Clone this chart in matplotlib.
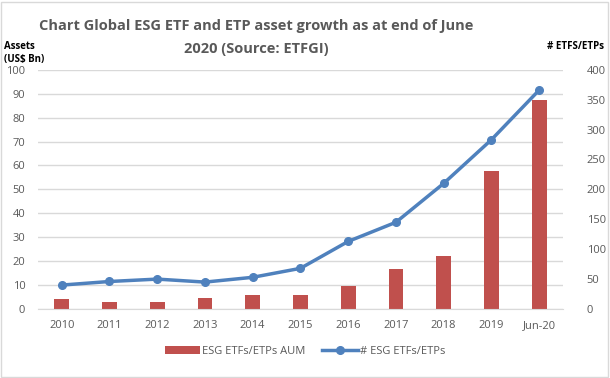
import numpy as np
import matplotlib.pyplot as plt
from matplotlib.patches import Rectangle

# chart data
years = ['2010', '2011', '2012', '2013', '2014', '2015', '2016', '2017', '2018', '2019', 'Jun-20']
aum = [4, 3, 3, 4.7, 6, 6, 9.7, 16.8, 22, 57.5, 87.5]       # US$ Bn
count = [40, 46, 50, 45, 53, 68, 113, 145, 210, 283, 366]   # number of ETFs/ETPs

plt.rcParams['font.family'] = ['Open Sans', 'DejaVu Sans']
grey = '#595959'

fig = plt.figure(figsize=(6.1, 3.78), dpi=100)
fig.patches.append(Rectangle((0.002, 0.003), 0.995, 0.993, transform=fig.transFigure,
                             fill=False, edgecolor='#d9d9d9', lw=1))

ax = fig.add_axes([0.062, 0.1825, 0.861, 0.633])
ax2 = ax.twinx()

x = np.arange(len(years))
ax.bar(x, aum, width=0.31, color='#C0504D', label='ESG ETFs/ETPs AUM', zorder=2)
ax2.plot(x, count, color='#4F81BD', lw=2.5, marker='o', ms=5.5,
         label='# ESG ETFs/ETPs', zorder=3)

ax.set_xlim(-0.5, len(years) - 0.5)
ax.set_ylim(0, 100)
ax.set_yticks(range(0, 101, 10))
ax2.set_ylim(0, 400)
ax2.set_yticks(range(0, 401, 50))
ax.set_xticks(x)
ax.set_xticklabels(years)

ax.grid(axis='y', color='#d9d9d9', lw=1, zorder=0)
ax.set_axisbelow(True)
for a in (ax, ax2):
    for s in a.spines.values():
        s.set_visible(False)
    a.tick_params(length=0, labelsize=8, labelcolor=grey)
ax.spines['bottom'].set_visible(True)
ax.spines['bottom'].set_color('#d9d9d9')
ax.tick_params(axis='x', pad=8)
ax.tick_params(axis='y', pad=9)
ax2.tick_params(axis='y', pad=17)

fig.text(0.42, 0.9, 'Chart Global ESG ETF and ETP asset growth as at end of June\n2020 (Source: ETFGI)',
         ha='center', va='center', fontsize=10.5, fontweight='bold', color=grey, linespacing=1.85)
fig.text(0.006, 0.86, 'Assets\n(US$ Bn)', ha='left', va='center', fontsize=7, fontweight='bold',
         color='black', linespacing=1.35)
fig.text(0.99, 0.878, '# ETFS/ETPs', ha='right', va='center', fontsize=7, fontweight='bold', color='black')

h1, l1 = ax.get_legend_handles_labels()
h2, l2 = ax2.get_legend_handles_labels()
fig.legend(h1 + h2, l1 + l2, loc='center', bbox_to_anchor=(0.5, 0.07), ncol=2, frameon=False,
           fontsize=8, labelcolor=grey, handlelength=3.2, handletextpad=0.2, columnspacing=1.5)

fig.savefig('out.png', dpi=100)
